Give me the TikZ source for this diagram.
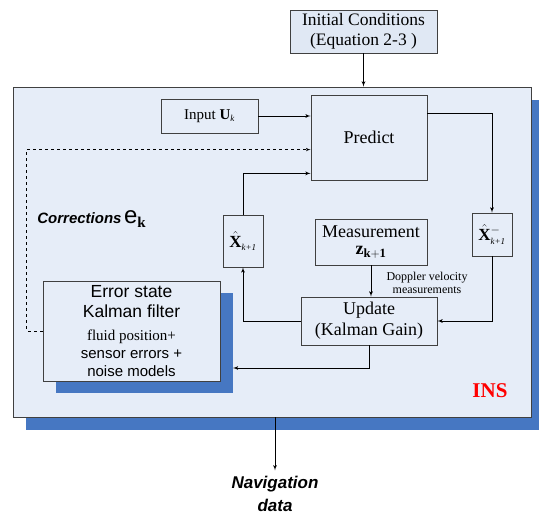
\documentclass[tikz,border=0pt]{standalone}
\usepackage{amsmath,amssymb}
\usepackage{fontspec}
\setmainfont{Liberation Serif}
\setsansfont{Liberation Sans}
\usetikzlibrary{arrows}
\usetikzlibrary{calc}
\usetikzlibrary{shadows}

\definecolor{insfill}{HTML}{E6EDF8}
\definecolor{initfill}{HTML}{E0E8F4}
\definecolor{shadowblue}{HTML}{4677C2}
\definecolor{edgegray}{HTML}{404040}

\newcommand{\bigsf}{\sffamily\fontsize{17.5}{20}\selectfont}
\newcommand{\smallsf}{\sffamily\fontsize{15}{18}\selectfont}
\newcommand{\kidx}{\mbox{\fontsize{9}{9}\selectfont\itshape k+1}}

\begin{document}
\begin{tikzpicture}[x=1pt,y=-1pt,inner sep=0pt,>=latex',line width=.8pt,
  blk/.style={draw=edgegray,fill=insfill,align=center,font=\fontsize{17.5}{20}\selectfont},
  xbox/.style={blk,minimum width=40pt,font=\fontsize{17}{18}\selectfont},
  blueshadow/.style={drop shadow={shadow xshift=#1,shadow yshift=-#1,fill=shadowblue,opacity=1}},
  sfbi/.style={font=\sffamily\bfseries\itshape\fontsize{17}{23}\selectfont,align=center}]
\useasboundingbox (0,0) rectangle (539,513);
\draw node [blk,fill=initfill,minimum width=147pt,minimum height=43pt] (init) at (363.5,31.5) {Initial Conditions\\(Equation 2-3 )};
\draw node [blk,blueshadow=13pt,minimum width=518pt,minimum height=330pt] (ins) at (272,252) {};
\draw node [blk,minimum width=97pt,minimum height=34pt,font=\fontsize{15}{18}\selectfont] (input) at (209.5,116) {Input $\mathbf{U}_{\mbox{\fontsize{9}{9}\selectfont\itshape k}}$};
\draw node [blk,minimum width=116pt,minimum height=85pt,font=\fontsize{18}{20}\selectfont] (predict) at (369,137.5) {Predict};
\draw node [xbox,minimum height=43pt] (xminus) at (492,234.5) {$\hat{\mathbf{X}}^{-}_{\kidx}$};
\draw node [xbox,minimum height=52pt] (xhat) at (243,241) {$\hat{\mathbf{X}}_{\kidx}$};
\draw node [blk,minimum width=112pt,minimum height=46pt,font=\fontsize{18}{17}\selectfont] (meas) at (371,242) {Measurement\\$\mathbf{z}_{\mathbf{k+1}}$};
\draw node [blk,minimum width=136pt,minimum height=48pt,font=\fontsize{18}{21}\selectfont] (update) at (369,321) {Update\\(Kalman Gain)};
\draw node [blk,blueshadow=12.5pt,minimum width=177pt,minimum height=100pt,font=\fontsize{15}{18}\selectfont] (error) at (131.5,331)
  {\bigsf Error state\\[2pt]\bigsf Kalman filter\\[5pt]
   \rmfamily fluid position+\\
   \smallsf sensor errors +\\\smallsf noise models};
\draw node [font=\fontsize{12}{13}\selectfont,align=center] (doppler) at (427,282.5) {Doppler velocity\\measurements};
\draw node [font=\bfseries\fontsize{21}{24}\selectfont,text=red] (inslabel) at (490,391) {INS};
\draw node [anchor=west] (corr) at (37,219) {{\sffamily\bfseries\itshape\fontsize{15}{18}\selectfont Corrections} {\sffamily\fontsize{24}{24}\selectfont e}\raisebox{-4pt}{\bfseries\fontsize{15}{15}\selectfont k}};
\draw node [sfbi] (nav) at (275,494) {Navigation\\data};
\coordinate (errin) at (233,368);
% connectors
\draw [->] (init) -- (init |- ins.north);
\draw [->] (input) -- (input -| predict.west);
\draw [->] ($(predict.north east)+(0,19)$) -| (xminus.north);
\draw [->] (xminus.south) |- (update.east);
\draw [->] (meas.south) -- (meas.south |- update.north);
\draw [->] (update.west) -| (xhat.south);
\draw [->] (xhat.north) |- ($(predict.south west)+(0,-7)$);
\draw [->] (update.south) |- (errin);
\draw [->,dashed,line width=.6pt] (error.west) -- ++(-16,0) |- ($(predict.north west)+(0,55)$);
\draw [->] (ins.south -| nav) -- ++(0,53);
\end{tikzpicture}
\end{document}
